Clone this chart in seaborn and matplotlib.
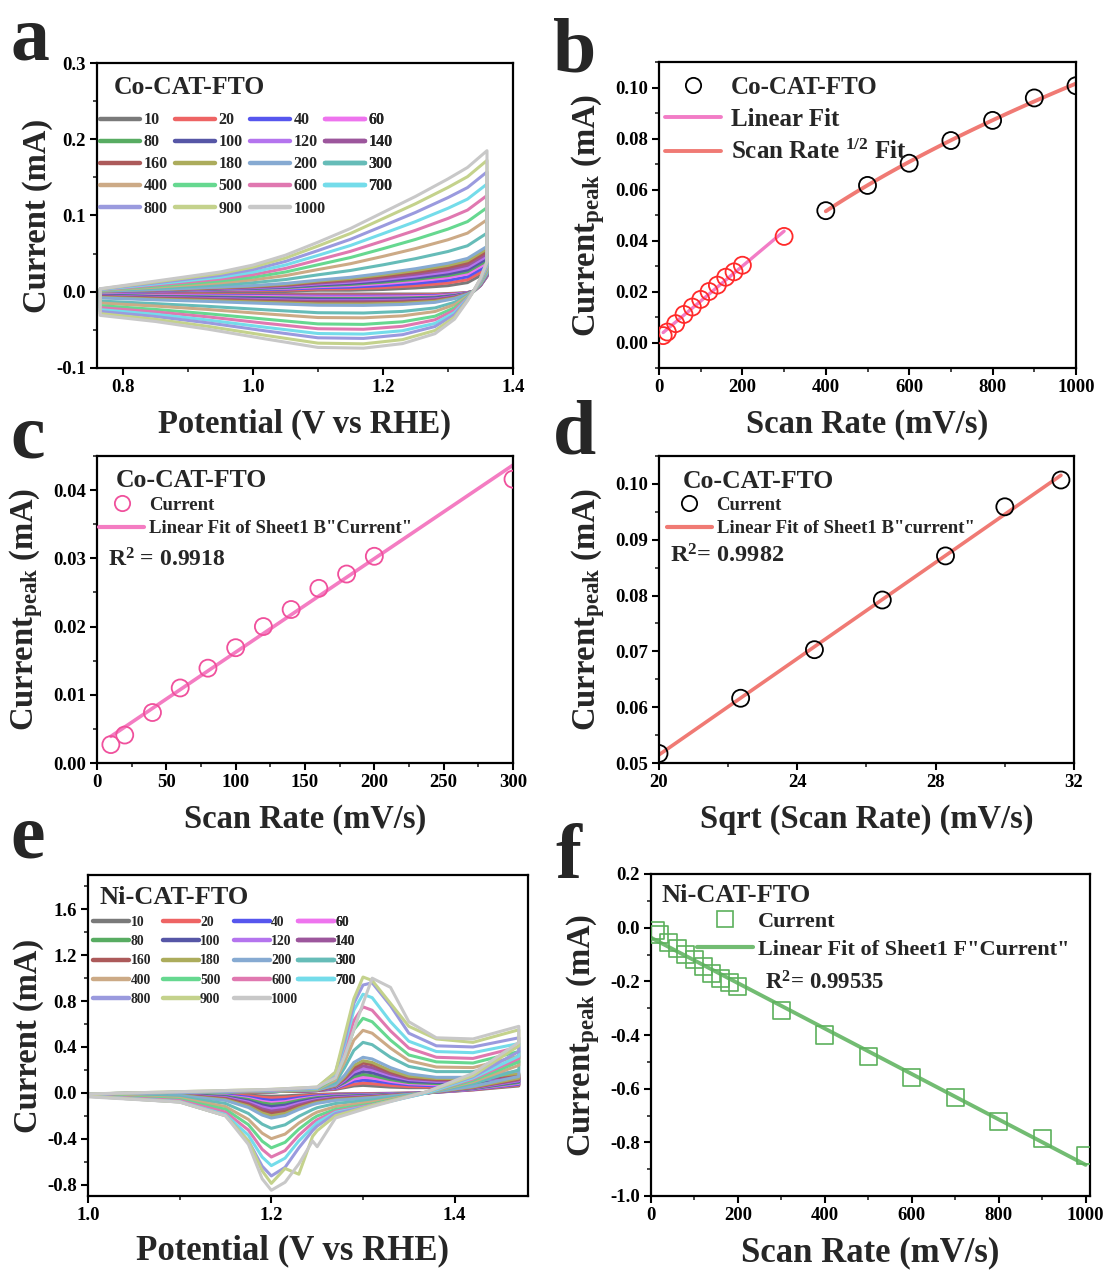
import numpy as np
import pandas as pd
import matplotlib
matplotlib.use("Agg")
import matplotlib.pyplot as plt
import seaborn as sns
from matplotlib.lines import Line2D
from matplotlib.ticker import MultipleLocator, FormatStrFormatter

# ---------------- data ----------------
SCAN_RATES = [10, 20, 40, 60, 80, 100, 120, 140, 160, 180, 200, 300, 400, 500, 600, 700, 800, 900, 1000]
CV_COLORS = ["#7a7a7a", "#ee6464", "#5656ee", "#ee74ee", "#58ac62", "#5656a6", "#b474ee", "#9c569c",
             "#ac5a5a", "#acac5c", "#86aad2", "#66bcb8", "#ccaa86", "#66d890", "#e078b0", "#74dcea",
             "#9a9ade", "#c4d28c", "#c8c8c8"]

# panel a: Co-CAT-FTO CV (potential grids, anodic then cathodic branch)
CO_E_ANODIC = [0.765, 0.85, 0.95, 1.00, 1.05, 1.10, 1.15, 1.20, 1.25, 1.30, 1.33, 1.36]
CO_E_CATHODIC = [1.36, 1.35, 1.34, 1.33, 1.31, 1.28, 1.23, 1.17, 1.10, 1.02, 0.93, 0.85, 0.765]
CO_I_ANODIC = [
    [0.0000, 0.0000, 0.0010, 0.0010, 0.0010, 0.0020, 0.0020, 0.0030, 0.0050, 0.0080, 0.0120, 0.0260],
    [0.0001, 0.0004, 0.0016, 0.0019, 0.0022, 0.0036, 0.0040, 0.0055, 0.0080, 0.0115, 0.0158, 0.0300],
    [0.0002, 0.0007, 0.0023, 0.0027, 0.0034, 0.0052, 0.0061, 0.0081, 0.0110, 0.0150, 0.0196, 0.0340],
    [0.0003, 0.0011, 0.0029, 0.0036, 0.0045, 0.0067, 0.0081, 0.0106, 0.0140, 0.0185, 0.0233, 0.0379],
    [0.0004, 0.0013, 0.0034, 0.0042, 0.0054, 0.0079, 0.0096, 0.0125, 0.0163, 0.0212, 0.0262, 0.0409],
    [0.0004, 0.0015, 0.0038, 0.0047, 0.0062, 0.0089, 0.0109, 0.0141, 0.0182, 0.0234, 0.0286, 0.0435],
    [0.0005, 0.0018, 0.0043, 0.0054, 0.0071, 0.0102, 0.0125, 0.0161, 0.0206, 0.0262, 0.0316, 0.0467],
    [0.0006, 0.0021, 0.0048, 0.0061, 0.0081, 0.0115, 0.0142, 0.0182, 0.0230, 0.0290, 0.0347, 0.0499],
    [0.0007, 0.0024, 0.0053, 0.0068, 0.0090, 0.0127, 0.0158, 0.0202, 0.0254, 0.0318, 0.0377, 0.0530],
    [0.0008, 0.0027, 0.0058, 0.0075, 0.0099, 0.0140, 0.0174, 0.0222, 0.0278, 0.0346, 0.0407, 0.0562],
    [0.0008, 0.0029, 0.0063, 0.0081, 0.0109, 0.0152, 0.0190, 0.0242, 0.0302, 0.0374, 0.0437, 0.0594],
    [0.0013, 0.0045, 0.0090, 0.0119, 0.0160, 0.0222, 0.0279, 0.0353, 0.0434, 0.0528, 0.0603, 0.0769],
    [0.0017, 0.0060, 0.0118, 0.0156, 0.0212, 0.0291, 0.0368, 0.0464, 0.0566, 0.0682, 0.0769, 0.0944],
    [0.0021, 0.0074, 0.0143, 0.0190, 0.0259, 0.0354, 0.0449, 0.0565, 0.0686, 0.0822, 0.0920, 0.1103],
    [0.0025, 0.0088, 0.0168, 0.0224, 0.0306, 0.0417, 0.0530, 0.0666, 0.0806, 0.0962, 0.1071, 0.1262],
    [0.0029, 0.0102, 0.0191, 0.0257, 0.0351, 0.0477, 0.0607, 0.0762, 0.0920, 0.1095, 0.1215, 0.1413],
    [0.0033, 0.0116, 0.0216, 0.0291, 0.0398, 0.0540, 0.0688, 0.0863, 0.1040, 0.1235, 0.1366, 0.1572],
    [0.0037, 0.0129, 0.0240, 0.0323, 0.0442, 0.0600, 0.0765, 0.0959, 0.1154, 0.1368, 0.1509, 0.1723],
    [0.0040, 0.0140, 0.0260, 0.0350, 0.0480, 0.0650, 0.0830, 0.1040, 0.1250, 0.1480, 0.1630, 0.1850],
]
CO_I_CATHODIC = [
    [0.0200, 0.0080, 0.0010, -0.0010, -0.0020, -0.0030, -0.0030, -0.0030, -0.0030, -0.0030, -0.0030, -0.0030, -0.0020],
    [0.0204, 0.0082, 0.0010, -0.0012, -0.0027, -0.0040, -0.0043, -0.0044, -0.0044, -0.0042, -0.0039, -0.0037, -0.0026],
    [0.0208, 0.0084, 0.0010, -0.0014, -0.0034, -0.0051, -0.0056, -0.0058, -0.0058, -0.0054, -0.0048, -0.0044, -0.0032],
    [0.0211, 0.0086, 0.0011, -0.0016, -0.0039, -0.0059, -0.0066, -0.0070, -0.0069, -0.0063, -0.0056, -0.0050, -0.0036],
    [0.0216, 0.0088, 0.0011, -0.0019, -0.0047, -0.0072, -0.0082, -0.0087, -0.0086, -0.0077, -0.0067, -0.0059, -0.0043],
    [0.0219, 0.0090, 0.0011, -0.0021, -0.0053, -0.0080, -0.0093, -0.0099, -0.0098, -0.0087, -0.0075, -0.0065, -0.0048],
    [0.0225, 0.0093, 0.0011, -0.0024, -0.0063, -0.0095, -0.0111, -0.0119, -0.0118, -0.0104, -0.0088, -0.0075, -0.0056],
    [0.0228, 0.0094, 0.0011, -0.0025, -0.0068, -0.0103, -0.0121, -0.0129, -0.0128, -0.0113, -0.0094, -0.0080, -0.0061],
    [0.0233, 0.0097, 0.0012, -0.0028, -0.0076, -0.0116, -0.0137, -0.0147, -0.0146, -0.0127, -0.0106, -0.0089, -0.0068],
    [0.0237, 0.0099, 0.0012, -0.0030, -0.0083, -0.0126, -0.0150, -0.0161, -0.0160, -0.0139, -0.0115, -0.0097, -0.0074],
    [0.0242, 0.0101, 0.0012, -0.0033, -0.0091, -0.0139, -0.0167, -0.0179, -0.0177, -0.0154, -0.0127, -0.0106, -0.0081],
    [0.0270, 0.0115, 0.0014, -0.0049, -0.0139, -0.0212, -0.0258, -0.0279, -0.0275, -0.0237, -0.0191, -0.0156, -0.0122],
    [0.0288, 0.0124, 0.0014, -0.0058, -0.0170, -0.0259, -0.0316, -0.0342, -0.0338, -0.0290, -0.0232, -0.0188, -0.0148],
    [0.0312, 0.0136, 0.0016, -0.0072, -0.0210, -0.0321, -0.0394, -0.0428, -0.0422, -0.0360, -0.0288, -0.0232, -0.0182],
    [0.0330, 0.0145, 0.0017, -0.0082, -0.0241, -0.0368, -0.0453, -0.0492, -0.0485, -0.0414, -0.0329, -0.0264, -0.0209],
    [0.0348, 0.0154, 0.0017, -0.0091, -0.0272, -0.0415, -0.0511, -0.0555, -0.0548, -0.0467, -0.0370, -0.0296, -0.0235],
    [0.0364, 0.0162, 0.0018, -0.0100, -0.0299, -0.0456, -0.0563, -0.0612, -0.0604, -0.0514, -0.0407, -0.0325, -0.0258],
    [0.0384, 0.0172, 0.0019, -0.0111, -0.0333, -0.0508, -0.0628, -0.0683, -0.0674, -0.0573, -0.0453, -0.0361, -0.0287],
    [0.0400, 0.0180, 0.0020, -0.0120, -0.0360, -0.0550, -0.0680, -0.0740, -0.0730, -0.0620, -0.0490, -0.0390, -0.0310],
]

# panel e: Ni-CAT-FTO CV
NI_E_ANODIC = [1.00, 1.10, 1.20, 1.25, 1.27, 1.28, 1.29, 1.30, 1.31, 1.33, 1.35, 1.38, 1.42, 1.47]
NI_E_CATHODIC = [1.47, 1.42, 1.37, 1.31, 1.27, 1.25, 1.245, 1.23, 1.215, 1.20, 1.19, 1.175, 1.15, 1.10, 1.00]
NI_I_ANODIC = [
    [-0.01, 0.00, 0.010, 0.020, 0.030, 0.045, 0.060, 0.065, 0.060, 0.050, 0.045, 0.045, 0.050, 0.08],
    [-0.01, 0.00, 0.010, 0.020, 0.035, 0.055, 0.075, 0.085, 0.080, 0.065, 0.055, 0.050, 0.055, 0.09],
    [-0.01, 0.00, 0.010, 0.020, 0.040, 0.070, 0.100, 0.110, 0.105, 0.085, 0.070, 0.060, 0.065, 0.10],
    [-0.01, 0.00, 0.010, 0.020, 0.045, 0.080, 0.120, 0.135, 0.130, 0.100, 0.080, 0.070, 0.075, 0.11],
    [-0.01, 0.00, 0.010, 0.020, 0.050, 0.090, 0.140, 0.160, 0.150, 0.115, 0.090, 0.080, 0.085, 0.12],
    [-0.01, 0.00, 0.010, 0.020, 0.050, 0.100, 0.160, 0.185, 0.175, 0.130, 0.100, 0.090, 0.095, 0.13],
    [-0.01, 0.00, 0.010, 0.020, 0.055, 0.110, 0.180, 0.210, 0.200, 0.150, 0.115, 0.100, 0.105, 0.14],
    [-0.01, 0.00, 0.010, 0.020, 0.060, 0.120, 0.200, 0.235, 0.220, 0.165, 0.125, 0.110, 0.110, 0.15],
    [-0.01, 0.00, 0.010, 0.020, 0.060, 0.130, 0.220, 0.260, 0.245, 0.180, 0.135, 0.115, 0.120, 0.16],
    [-0.01, 0.00, 0.010, 0.025, 0.065, 0.140, 0.240, 0.280, 0.265, 0.195, 0.145, 0.125, 0.125, 0.17],
    [-0.01, 0.00, 0.015, 0.025, 0.070, 0.155, 0.265, 0.310, 0.295, 0.220, 0.165, 0.135, 0.135, 0.19],
    [-0.01, 0.00, 0.015, 0.030, 0.090, 0.220, 0.370, 0.440, 0.420, 0.310, 0.230, 0.185, 0.185, 0.27],
    [-0.01, 0.005, 0.020, 0.030, 0.110, 0.270, 0.460, 0.545, 0.520, 0.390, 0.280, 0.225, 0.220, 0.32],
    [-0.01, 0.005, 0.020, 0.035, 0.130, 0.320, 0.550, 0.650, 0.620, 0.460, 0.330, 0.270, 0.260, 0.36],
    [-0.01, 0.005, 0.020, 0.040, 0.150, 0.370, 0.630, 0.750, 0.720, 0.540, 0.390, 0.310, 0.300, 0.40],
    [-0.01, 0.005, 0.025, 0.040, 0.170, 0.420, 0.720, 0.860, 0.830, 0.620, 0.450, 0.360, 0.350, 0.43],
    [-0.01, 0.005, 0.025, 0.045, 0.180, 0.450, 0.780, 0.940, 0.960, 0.760, 0.520, 0.410, 0.400, 0.48],
    [-0.01, 0.010, 0.030, 0.050, 0.180, 0.500, 0.820, 1.010, 0.980, 0.780, 0.580, 0.470, 0.440, 0.55],
    [-0.01, 0.010, 0.030, 0.050, 0.130, 0.320, 0.550, 0.780, 1.000, 0.920, 0.620, 0.480, 0.470, 0.58],
]
NI_I_CATHODIC = [
    [0.060, 0.025, 0.00, -0.006, -0.009, -0.013, -0.014, -0.020, -0.027, -0.030, -0.027, -0.020, -0.014, -0.010, -0.010],
    [0.068, 0.027, 0.00, -0.009, -0.014, -0.019, -0.021, -0.030, -0.040, -0.045, -0.040, -0.027, -0.016, -0.010, -0.010],
    [0.075, 0.030, 0.00, -0.013, -0.020, -0.027, -0.031, -0.043, -0.059, -0.065, -0.057, -0.038, -0.020, -0.012, -0.010],
    [0.083, 0.033, 0.00, -0.017, -0.026, -0.036, -0.040, -0.056, -0.077, -0.085, -0.075, -0.049, -0.026, -0.013, -0.010],
    [0.090, 0.036, 0.00, -0.020, -0.030, -0.042, -0.047, -0.066, -0.090, -0.100, -0.088, -0.058, -0.030, -0.014, -0.012],
    [0.098, 0.039, 0.00, -0.024, -0.036, -0.050, -0.056, -0.079, -0.108, -0.120, -0.106, -0.070, -0.036, -0.016, -0.012],
    [0.105, 0.042, 0.00, -0.028, -0.042, -0.059, -0.066, -0.092, -0.126, -0.140, -0.123, -0.081, -0.042, -0.018, -0.013],
    [0.113, 0.045, 0.00, -0.032, -0.048, -0.067, -0.075, -0.106, -0.144, -0.160, -0.141, -0.093, -0.048, -0.020, -0.013],
    [0.120, 0.048, 0.00, -0.036, -0.054, -0.076, -0.085, -0.119, -0.162, -0.180, -0.158, -0.104, -0.054, -0.022, -0.014],
    [0.128, 0.051, 0.00, -0.040, -0.060, -0.084, -0.094, -0.132, -0.180, -0.200, -0.176, -0.116, -0.060, -0.024, -0.014],
    [0.143, 0.057, 0.00, -0.044, -0.066, -0.092, -0.103, -0.145, -0.198, -0.220, -0.194, -0.128, -0.066, -0.026, -0.015],
    [0.200, 0.080, 0.00, -0.062, -0.093, -0.130, -0.146, -0.205, -0.279, -0.310, -0.273, -0.180, -0.093, -0.037, -0.018],
    [0.240, 0.096, 0.00, -0.080, -0.120, -0.168, -0.188, -0.264, -0.360, -0.400, -0.352, -0.232, -0.120, -0.048, -0.020],
    [0.270, 0.108, 0.00, -0.096, -0.144, -0.202, -0.226, -0.317, -0.432, -0.480, -0.422, -0.278, -0.144, -0.058, -0.022],
    [0.300, 0.120, 0.00, -0.105, -0.160, -0.235, -0.263, -0.370, -0.504, -0.560, -0.493, -0.325, -0.168, -0.067, -0.025],
    [0.320, 0.130, 0.00, -0.110, -0.170, -0.260, -0.300, -0.420, -0.570, -0.635, -0.560, -0.370, -0.190, -0.076, -0.028],
    [0.360, 0.140, 0.01, -0.110, -0.180, -0.290, -0.330, -0.480, -0.650, -0.725, -0.640, -0.420, -0.200, -0.080, -0.030],
    [0.410, 0.150, 0.01, -0.110, -0.200, -0.330, -0.380, -0.710, -0.660, -0.790, -0.680, -0.420, -0.200, -0.080, -0.030],
    [0.440, 0.170, 0.01, -0.120, -0.220, -0.470, -0.420, -0.620, -0.780, -0.850, -0.750, -0.450, -0.200, -0.080, -0.035],
]

# panels b, c, d: Co-CAT-FTO peak currents
CO_RATE_LOW = [10, 20, 40, 60, 80, 100, 120, 140, 160, 180, 200, 300]
CO_PEAK_LOW = [0.0027, 0.0041, 0.0074, 0.0110, 0.0139, 0.0169, 0.0200, 0.0225, 0.0256, 0.0277, 0.0303, 0.0416]
CO_RATE_HIGH = [400, 500, 600, 700, 800, 900, 1000]
CO_PEAK_HIGH = [0.0517, 0.0616, 0.0703, 0.0792, 0.0871, 0.0959, 0.1007]

# panel f: Ni-CAT-FTO peak currents
NI_RATE = SCAN_RATES
NI_PEAK = [-0.012, -0.025, -0.054, -0.079, -0.100, -0.119, -0.144, -0.169, -0.188, -0.206, -0.221,
           -0.309, -0.400, -0.479, -0.559, -0.634, -0.721, -0.784, -0.850]

# ---------------- style ----------------
sns.set_theme(style="ticks")
plt.rcParams["font.family"] = ["Liberation Serif", "DejaVu Serif"]
plt.rcParams["font.weight"] = "bold"
plt.rcParams["axes.labelweight"] = "bold"
plt.rcParams["axes.unicode_minus"] = False
plt.rcParams["mathtext.fontset"] = "custom"
plt.rcParams["mathtext.rm"] = "Liberation Serif:bold"
plt.rcParams["mathtext.bf"] = "Liberation Serif:bold"
plt.rcParams["mathtext.it"] = "Liberation Serif:bold"

TICK_FS = 13.5
W, H = 1105, 1270

fig = plt.figure(figsize=(W / 100, H / 100), dpi=100)


def add_ax(l, r, t, b):
    return fig.add_axes([l / W, 1 - b / H, (r - l) / W, (b - t) / H])


def style_ax(ax, xmaj, xmin, ymaj, ymin, xfmt, yfmt, xlabel, ylabel,
             xfs=23.5, yfs=23.5, ypad=6):
    for s in ax.spines.values():
        s.set_linewidth(1.6)
        s.set_color("black")
        s.set_visible(True)
    ax.xaxis.set_major_locator(MultipleLocator(xmaj))
    ax.xaxis.set_minor_locator(MultipleLocator(xmin))
    ax.yaxis.set_major_locator(MultipleLocator(ymaj))
    ax.yaxis.set_minor_locator(MultipleLocator(ymin))
    ax.xaxis.set_major_formatter(FormatStrFormatter(xfmt))
    ax.yaxis.set_major_formatter(FormatStrFormatter(yfmt))
    ax.tick_params(which="major", direction="out", length=5, width=1.5, labelsize=TICK_FS,
                   top=False, right=False, pad=3, colors="black")
    ax.tick_params(which="minor", direction="out", length=3, width=1.2, top=False, right=False)
    for lab in ax.get_xticklabels() + ax.get_yticklabels():
        lab.set_fontweight("bold")
    ax.set_xlabel(xlabel, fontsize=xfs, fontweight="bold", labelpad=9)
    ax.set_ylabel(ylabel, fontsize=yfs, fontweight="bold", labelpad=ypad)
    ax.grid(False)


def cv_frame(e_an, e_ca, i_an, i_ca):
    rows = []
    for rate, ia, ic in zip(SCAN_RATES, i_an, i_ca):
        es = list(e_an) + list(e_ca) + [e_an[0]]
        cs = list(ia) + list(ic) + [ia[0]]
        for k, (e, c) in enumerate(zip(es, cs)):
            rows.append((str(rate), k, e, c))
    return pd.DataFrame(rows, columns=["rate", "k", "E", "I"])


palette = {str(r): c for r, c in zip(SCAN_RATES, CV_COLORS)}
hue_order = [str(r) for r in SCAN_RATES]


def cv_legend(ax, col_x, y, fs, hl, tp, ls):
    for c in range(4):
        idx = list(range(c, len(SCAN_RATES), 4))
        handles = [Line2D([], [], color=CV_COLORS[i], lw=3.2) for i in idx]
        labels = [str(SCAN_RATES[i]) for i in idx]
        leg = ax.legend(handles, labels, loc="upper left", bbox_to_anchor=(col_x[c], y), frameon=False,
                        prop={"family": "Liberation Serif", "weight": "bold", "size": fs},
                        handlelength=hl, handletextpad=tp, labelspacing=ls,
                        borderpad=0, borderaxespad=0)
        ax.add_artist(leg)


ylabel_peak = r"Current$_{\mathbf{peak}}$ (mA)"

# ---------------- panel a ----------------
ax_a = add_ax(97, 513, 63, 368)
df_a = cv_frame(CO_E_ANODIC, CO_E_CATHODIC, CO_I_ANODIC, CO_I_CATHODIC)
sns.lineplot(data=df_a, x="E", y="I", hue="rate", hue_order=hue_order, palette=palette,
             sort=False, estimator=None, legend=False, lw=2.2, ax=ax_a)
ax_a.set_xlim(0.76, 1.4)
ax_a.set_ylim(-0.1, 0.3)
style_ax(ax_a, 0.2, 0.1, 0.1, 0.05, "%.1f", "%.1f", "Potential (V vs RHE)", "Current (mA)", ypad=2)
ax_a.text(0.041, 0.92, "Co-CAT-FTO", transform=ax_a.transAxes, fontsize=18.5, fontweight="bold",
          va="center", ha="left")
cv_legend(ax_a, [0.0072, 0.1875, 0.3678, 0.548], 0.8385, 11.5, 2.5, 0.22, 0.38)

# ---------------- panel b ----------------
ax_b = add_ax(659, 1076, 62, 368)
ax_b.set_xlim(0, 1000)
ax_b.set_ylim(-0.01, 0.11)
sns.regplot(x=np.array(CO_RATE_LOW), y=np.array(CO_PEAK_LOW), ci=None, scatter=False, truncate=True,
            color="#f27cc6", line_kws={"lw": 2.4}, ax=ax_b)
coef = np.polyfit(np.sqrt(CO_RATE_HIGH), CO_PEAK_HIGH, 1)
x_fit = np.linspace(CO_RATE_HIGH[0], CO_RATE_HIGH[-1], 60)
sns.lineplot(x=x_fit, y=np.polyval(coef, np.sqrt(x_fit)), color="#f07a74", lw=2.8, ax=ax_b)
sns.scatterplot(x=CO_RATE_LOW, y=CO_PEAK_LOW, marker="o", s=150, facecolor="none",
                edgecolor="#ff2a2a", linewidth=1.3, ax=ax_b, zorder=5)
sns.scatterplot(x=CO_RATE_HIGH, y=CO_PEAK_HIGH, marker="o", s=150, facecolor="none",
                edgecolor="black", linewidth=1.3, ax=ax_b, zorder=5)
ax_b.set_xlim(0, 1000)
ax_b.set_ylim(-0.01, 0.11)
style_ax(ax_b, 200, 100, 0.02, 0.01, "%d", "%.2f", "Scan Rate (mV/s)", ylabel_peak)
hb = [Line2D([], [], ls="none", marker="o", ms=11, mfc="none", mec="black", mew=1.3),
      Line2D([], [], color="#f27cc6", lw=2.8),
      Line2D([], [], color="#f07a74", lw=2.8)]
ax_b.legend(hb, ["Co-CAT-FTO", "Linear Fit", r"Scan Rate $^{\mathbf{1/2}}$ Fit"], loc="upper left",
            bbox_to_anchor=(0.014, 0.954), frameon=False,
            prop={"family": "Liberation Serif", "weight": "bold", "size": 18},
            handlelength=2.25, handletextpad=0.4, labelspacing=0.36, borderpad=0, borderaxespad=0)

# ---------------- panel c ----------------
ax_c = add_ax(97, 513, 456, 763)
ax_c.set_xlim(0, 300)
ax_c.set_ylim(0, 0.045)
sns.regplot(x=np.array(CO_RATE_LOW), y=np.array(CO_PEAK_LOW), ci=None, scatter=False, truncate=True,
            color="#f47cc2", line_kws={"lw": 2.6}, ax=ax_c)
sns.scatterplot(x=CO_RATE_LOW, y=CO_PEAK_LOW, marker="o", s=150, facecolor="none",
                edgecolor="#f0509c", linewidth=1.3, ax=ax_c, zorder=5)
ax_c.set_xlim(0, 300)
ax_c.set_ylim(0, 0.045)
style_ax(ax_c, 50, 25, 0.01, 0.005, "%d", "%.2f", "Scan Rate (mV/s)", ylabel_peak)
ax_c.text(0.046, 0.92, "Co-CAT-FTO", transform=ax_c.transAxes, fontsize=18.5, fontweight="bold",
          va="center", ha="left")
hc = [Line2D([], [], ls="none", marker="o", ms=11, mfc="none", mec="#f0509c", mew=1.3),
      Line2D([], [], color="#f47cc2", lw=3)]
ax_c.legend(hc, ["Current", 'Linear Fit of Sheet1 B"Current"'], loc="upper left",
            bbox_to_anchor=(0.005, 0.867), frameon=False,
            prop={"family": "Liberation Serif", "weight": "bold", "size": 13.5},
            handlelength=2.4, handletextpad=0.25, labelspacing=0.33, borderpad=0, borderaxespad=0)
ax_c.text(0.026, 0.661, r"R$^{\mathbf{2}}$ = 0.9918", transform=ax_c.transAxes, fontsize=17,
          fontweight="bold", va="center", ha="left")

# ---------------- panel d ----------------
ax_d = add_ax(659, 1074, 456, 763)
sqrt_high = np.sqrt(np.array(CO_RATE_HIGH, dtype=float))
ax_d.set_xlim(20, 32)
ax_d.set_ylim(0.05, 0.105)
sns.regplot(x=sqrt_high, y=np.array(CO_PEAK_HIGH), ci=None, scatter=False, truncate=True,
            color="#f07a74", line_kws={"lw": 2.6}, ax=ax_d)
sns.scatterplot(x=sqrt_high, y=CO_PEAK_HIGH, marker="o", s=150, facecolor="none",
                edgecolor="black", linewidth=1.3, ax=ax_d, zorder=5)
ax_d.set_xlim(20, 32)
ax_d.set_ylim(0.05, 0.105)
style_ax(ax_d, 4, 2, 0.01, 0.005, "%d", "%.2f", "Sqrt (Scan Rate) (mV/s)", ylabel_peak)
ax_d.text(0.058, 0.917, "Co-CAT-FTO", transform=ax_d.transAxes, fontsize=18.5, fontweight="bold",
          va="center", ha="left")
hd = [Line2D([], [], ls="none", marker="o", ms=11, mfc="none", mec="black", mew=1.3),
      Line2D([], [], color="#f07a74", lw=3)]
ax_d.legend(hd, ["Current", 'Linear Fit of Sheet1 B"current"'], loc="upper left",
            bbox_to_anchor=(0.019, 0.867), frameon=False,
            prop={"family": "Liberation Serif", "weight": "bold", "size": 13.5},
            handlelength=2.4, handletextpad=0.25, labelspacing=0.33, borderpad=0, borderaxespad=0)
ax_d.text(0.027, 0.674, r"R$^{\mathbf{2}}$= 0.9982", transform=ax_d.transAxes, fontsize=17.5,
          fontweight="bold", va="center", ha="left")

# ---------------- panel e ----------------
ax_e = add_ax(88, 528, 875, 1196)
df_e = cv_frame(NI_E_ANODIC, NI_E_CATHODIC, NI_I_ANODIC, NI_I_CATHODIC)
sns.lineplot(data=df_e, x="E", y="I", hue="rate", hue_order=hue_order, palette=palette,
             sort=False, estimator=None, legend=False, lw=2.2, ax=ax_e)
ax_e.set_xlim(1.0, 1.48)
ax_e.set_ylim(-0.9, 1.9)
style_ax(ax_e, 0.2, 0.1, 0.4, 0.2, "%.1f", "%.1f", "Potential (V vs RHE)", "Current (mA)",
         xfs=25, ypad=2)
ax_e.xaxis.set_label_coords(0.464, -0.118)
ax_e.text(0.025, 0.929, "Ni-CAT-FTO", transform=ax_e.transAxes, fontsize=19, fontweight="bold",
          va="center", ha="left")
cv_legend(ax_e, [0.0123, 0.1695, 0.3309, 0.4764], 0.873, 9.8, 2.65, 0.1, 0.46)

# ---------------- panel f ----------------
ax_f = add_ax(651, 1090, 874, 1196)
ax_f.set_xlim(0, 1010)
ax_f.set_ylim(-1.0, 0.2)
coef_f = np.polyfit(NI_RATE, NI_PEAK, 1)
x_f = np.array([0.0, 1000.0])
sns.lineplot(x=x_f, y=np.polyval(coef_f, x_f), color="#72bc72", lw=2.8, ax=ax_f)
sns.scatterplot(x=NI_RATE, y=NI_PEAK, marker="s", s=150, facecolor="none",
                edgecolor="#5cb05c", linewidth=1.2, ax=ax_f, zorder=5)
ax_f.set_xlim(0, 1010)
ax_f.set_ylim(-1.0, 0.2)
style_ax(ax_f, 200, 100, 0.2, 0.1, "%d", "%.1f", "Scan Rate (mV/s)", ylabel_peak, xfs=25)
ax_f.text(0.025, 0.932, "Ni-CAT-FTO", transform=ax_f.transAxes, fontsize=19, fontweight="bold",
          va="center", ha="left")
hf = [Line2D([], [], ls="none", marker="s", ms=11, mfc="none", mec="#5cb05c", mew=1.2),
      Line2D([], [], color="#72bc72", lw=3)]
ax_f.legend(hf, ["Current", 'Linear Fit of Sheet1 F"Current"'], loc="upper left",
            bbox_to_anchor=(0.105, 0.885), frameon=False,
            prop={"family": "Liberation Serif", "weight": "bold", "size": 16},
            handlelength=2.5, handletextpad=0.25, labelspacing=0.35, borderpad=0, borderaxespad=0)
ax_f.text(0.26, 0.662, r"R$^{\mathbf{2}}$= 0.99535", transform=ax_f.transAxes, fontsize=16.5,
          fontweight="bold", va="center", ha="left")

# ---------------- panel letters ----------------
for letter, px, py in [("a", 10, 60), ("b", 553, 72), ("c", 10, 458), ("d", 553, 453),
                       ("e", 10, 858), ("f", 555, 878)]:
    fig.text(px / W, 1 - py / H, letter, fontsize=56, fontweight="bold", ha="left", va="baseline")

fig.savefig("out.png", dpi=100)
